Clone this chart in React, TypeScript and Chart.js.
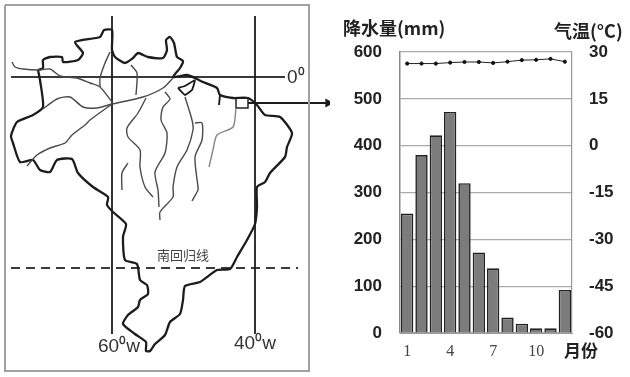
import React, { useEffect, useRef } from "react";
import { Chart, registerables } from "chart.js";

Chart.register(...registerables);

const months = ["1", "2", "3", "4", "5", "6", "7", "8", "9", "10", "11", "12"];
const shownMonths = ["1", "4", "7", "10"];
const rainfall = [255, 380, 422, 472, 320, 172, 138, 33, 20, 10, 10, 92];
const temperature = [26.3, 26.3, 26.3, 26.6, 26.8, 26.8, 26.5, 26.9, 27.4, 27.5, 27.8, 26.9];

type P = [number, number];

const outline: P[] = [
  [38, 70], [43, 68], [43, 60], [50, 57], [62, 57], [63, 62], [78, 60], [83, 53], [75, 42], [100, 37], [104, 30], [112, 30],
  [112, 50], [115, 57], [125, 63], [133, 58], [138, 53], [148, 57], [163, 58], [167, 50], [166, 40], [170, 37], [174, 43],
  [177, 57], [183, 61], [180, 68], [173, 77], [187, 75], [195, 78], [203, 82], [217, 88], [220, 95], [233, 98], [248, 98],
  [257, 105], [265, 115], [280, 117], [292, 133], [287, 147], [285, 157], [270, 173], [265, 182], [257, 187], [257, 207],
  [255, 224], [247, 240], [237, 257], [230, 269], [217, 270], [200, 282], [185, 286], [183, 300], [180, 314], [170, 322],
  [165, 335], [155, 344], [150, 351], [146, 351], [146, 342], [135, 334], [123, 324], [128, 315], [138, 307], [140, 300],
  [148, 294], [147, 285], [140, 280], [137, 264], [125, 260], [123, 237], [126, 224], [113, 212], [107, 205], [108, 197],
  [93, 187], [78, 173], [72, 159], [57, 160], [50, 172], [40, 170], [33, 160], [20, 162], [13, 143], [11, 136], [17, 122],
  [33, 115], [43, 107], [40, 80], [38, 70],
];
const estuary: P[] = [[178, 88], [185, 86], [195, 80], [192, 90], [185, 95], [178, 88]];
const inlet: P[] = [[220, 95], [219, 105]];
const siteBox: P[] = [[236, 98], [248, 98], [248, 108], [236, 108], [236, 98]];
const riverLines: P[][] = [
  [[12, 62], [15, 67], [23, 69], [38, 70], [50, 69], [60, 76], [77, 78], [90, 83], [100, 87], [112, 102]],
  [[110, 52], [105, 63], [100, 78], [100, 87]],
  [[43, 109], [57, 99], [70, 97], [83, 107], [97, 108], [112, 104], [143, 97], [163, 88], [173, 78]],
  [[27, 166], [37, 155], [50, 148], [65, 143], [72, 135], [85, 125], [90, 120], [112, 104]],
  [[131, 65], [137, 73], [136, 95]],
  [[146, 98], [138, 113], [127, 128], [128, 137], [140, 150], [140, 167], [145, 187], [153, 197]],
  [[128, 163], [122, 173], [122, 190]],
  [[165, 92], [170, 99], [163, 107], [161, 120], [167, 133], [165, 153], [155, 172], [158, 190], [159, 207]],
  [[185, 97], [192, 120], [193, 130], [187, 150], [177, 167], [173, 187], [173, 197], [160, 212], [160, 220]],
  [[195, 123], [202, 123], [202, 140], [195, 157], [198, 187], [198, 190], [192, 201]],
];
const paleRiver: P[] = [[236, 108], [233, 127], [217, 135], [213, 150], [209, 167]];
const frame: P[] = [[5, 5], [309, 5], [309, 371], [5, 371], [5, 5]];
const meridian60: P[] = [[112, 16], [112, 334]];
const meridian40: P[] = [[255, 16], [255, 334]];
const equator: P[] = [[11, 77], [285, 77]];
const tropic: P[] = [[11, 268], [298, 268]];
const arrow: P[] = [[248, 103], [328, 103]];

const toXY = (pts: P[]) => pts.map(([x, y]) => ({ x, y }));
const mapLine = (pts: P[], color: string, width: number, tension = 0.25, extra = {}) => ({
  data: toXY(pts),
  borderColor: color,
  borderWidth: width,
  pointRadius: 0,
  showLine: true,
  tension,
  ...extra,
});

const SANS = '"Liberation Sans", Arial, sans-serif';
const CJK = '"Noto Sans CJK SC", "Liberation Sans", sans-serif';

type Label = { text: string; x: number; y: number; font: string; color: string };

const textPlugin = (labels: Label[]) => ({
  id: "labels",
  afterDraw(chart: any) {
    const ctx = chart.ctx;
    ctx.save();
    ctx.textBaseline = "middle";
    ctx.textAlign = "left";
    labels.forEach((l) => {
      ctx.font = l.font;
      ctx.fillStyle = l.color;
      ctx.fillText(l.text, l.x, l.y);
    });
    ctx.restore();
  },
});

const mapLabels: Label[] = [
  { text: "0⁰", x: 287, y: 78, font: `19px ${SANS}`, color: "#333" },
  { text: "60⁰w", x: 98, y: 347, font: `19px ${SANS}`, color: "#333" },
  { text: "40⁰w", x: 234, y: 344, font: `19px ${SANS}`, color: "#333" },
  { text: "南回归线", x: 157, y: 255, font: `13px ${CJK}`, color: "#444" },
];

const chartLabels: Label[] = [
  { text: "降水量(mm)", x: 13, y: 28, font: `bold 18px ${CJK}`, color: "#222" },
  { text: "气温(°C)", x: 224, y: 31, font: `bold 18px ${CJK}`, color: "#222" },
  { text: "月份", x: 234, y: 351, font: `bold 17px ${CJK}`, color: "#222" },
];

export default function App() {
  const mapRef = useRef<HTMLCanvasElement>(null);
  const chartRef = useRef<HTMLCanvasElement>(null);

  useEffect(() => {
    const mapChart = new Chart(mapRef.current!, {
      type: "scatter",
      data: {
        datasets: [
          mapLine(frame, "#a0a0a0", 2, 0),
          ...riverLines.map((r) => mapLine(r, "#4a4a4a", 1.4)),
          mapLine(paleRiver, "#858585", 1.4),
          mapLine(outline, "#1c1c1c", 2.3, 0.2),
          mapLine(estuary, "#1c1c1c", 1.9, 0.1),
          mapLine(inlet, "#1c1c1c", 1.9, 0),
          mapLine(siteBox, "#222222", 1.5, 0),
          mapLine(meridian60, "#1c1c1c", 1.8, 0),
          mapLine(meridian40, "#1c1c1c", 1.8, 0),
          mapLine(equator, "#3a3a3a", 2, 0),
          mapLine(tropic, "#3a3a3a", 2, 0, { borderDash: [9, 6] }),
          mapLine(arrow, "#1c1c1c", 1.8, 0, {
            pointStyle: "triangle",
            rotation: 90,
            pointRadius: [0, 3.5],
            pointBackgroundColor: "#1c1c1c",
            pointBorderColor: "#1c1c1c",
          }),
        ] as any,
      },
      options: {
        responsive: false,
        animation: false,
        layout: { padding: 0, autoPadding: false },
        plugins: { legend: { display: false }, tooltip: { enabled: false } },
        scales: {
          x: { type: "linear", min: 0, max: 330, display: false },
          y: { type: "linear", min: 0, max: 377, reverse: true, display: false },
        },
      },
      plugins: [textPlugin(mapLabels)],
    } as any);

    const tickFont = { family: SANS, size: 17, weight: "bold" as const };
    const climate = new Chart(chartRef.current!, {
      data: {
        labels: months,
        datasets: [
          {
            type: "line",
            data: temperature,
            yAxisID: "y1",
            borderColor: "#222222",
            borderWidth: 1,
            pointRadius: 1.6,
            pointBackgroundColor: "#111111",
            pointBorderColor: "#111111",
            tension: 0,
            order: 1,
          },
          {
            type: "bar",
            data: rainfall,
            yAxisID: "y",
            backgroundColor: "#7c7c7c",
            borderColor: "#222222",
            borderWidth: 1.6,
            categoryPercentage: 1,
            barPercentage: 0.86,
            order: 2,
          },
        ] as any,
      },
      options: {
        responsive: false,
        animation: false,
        layout: { padding: { top: 52, left: 0, right: 0, bottom: 0 }, autoPadding: false },
        plugins: { legend: { display: false }, tooltip: { enabled: false } },
        scales: {
          x: {
            type: "category",
            offset: true,
            grid: { display: false, drawTicks: false },
            border: { color: "#999999" },
            afterFit: (s: any) => { s.height = 44; },
            ticks: {
              autoSkip: false,
              maxRotation: 0,
              padding: 9,
              color: "#444444",
              font: { family: '"Liberation Serif", serif', size: 16 },
              callback(_v: any, i: number) {
                return shownMonths.includes(months[i]) ? months[i] : "";
              },
            },
          },
          y: {
            type: "linear",
            position: "left",
            min: 0,
            max: 600,
            afterFit: (s: any) => { s.width = 70; },
            grid: { color: "#aaaaaa", lineWidth: 1.2, drawTicks: false },
            border: { color: "#888888", width: 1.5 },
            ticks: { stepSize: 100, padding: 18, color: "#222222", font: tickFont },
          },
          y1: {
            type: "linear",
            position: "right",
            min: -60,
            max: 30,
            afterFit: (s: any) => { s.width = 58; },
            grid: { drawOnChartArea: false, drawTicks: false },
            border: { color: "#999999", width: 1.2 },
            ticks: { stepSize: 15, padding: 17, color: "#222222", font: tickFont },
          },
        },
      },
      plugins: [textPlugin(chartLabels)],
    } as any);

    return () => {
      mapChart.destroy();
      climate.destroy();
    };
  }, []);

  const blur = "blur(0.5px)";
  return (
    <div style={{ position: "absolute", left: 0, top: 0, width: 630, height: 377, background: "#fff" }}>
      <canvas ref={mapRef} width={330} height={377} style={{ position: "absolute", left: 0, top: 0, filter: blur }} />
      <canvas ref={chartRef} width={300} height={377} style={{ position: "absolute", left: 330, top: 0, filter: blur }} />
    </div>
  );
}
